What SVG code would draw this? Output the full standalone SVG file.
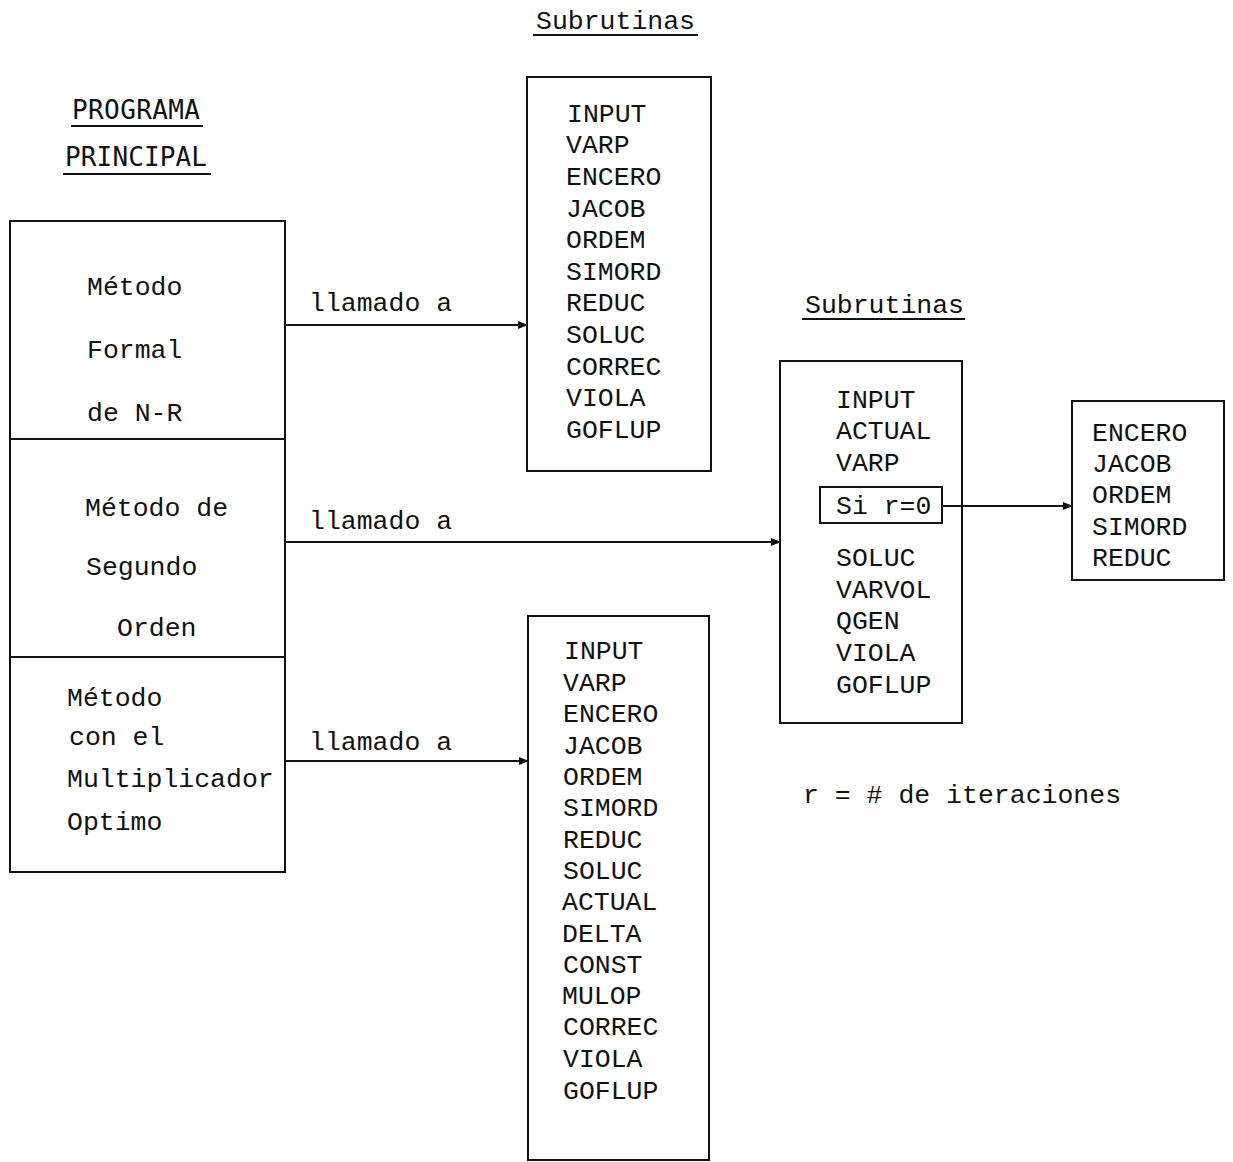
<svg xmlns="http://www.w3.org/2000/svg" width="1233" height="1162" viewBox="0 0 1233 1162">
<style>
text{font-family:"Liberation Mono","DejaVu Sans Mono",monospace;font-size:26.5px;fill:#111}
.h{font-family:"DejaVu Sans Mono","Liberation Mono",monospace;font-size:26px}
.b{fill:none;stroke:#111;stroke-width:2}
.u{stroke:#111;stroke-width:2}
.c{stroke:#111;stroke-width:1.8;fill:none;marker-end:url(#ah)}
</style>
<defs>
<marker id="ah" markerWidth="10" markerHeight="8" refX="9" refY="4" orient="auto" markerUnits="userSpaceOnUse">
<path d="M0,0 L10,4 L0,8 Z" fill="#111"/>
</marker>
</defs>
<rect width="1233" height="1162" fill="#fff"/>

<g id="titles">
<text x="536" y="29">Subrutinas</text>
<line class="u" x1="533" y1="35" x2="698" y2="35"/>
<text class="h" x="72" y="119" textLength="128">PROGRAMA</text>
<line class="u" x1="71" y1="126" x2="203" y2="126"/>
<text class="h" x="65" y="166" textLength="142">PRINCIPAL</text>
<line class="u" x1="63" y1="174" x2="211" y2="174"/>
<text x="805" y="313">Subrutinas</text>
<line class="u" x1="802" y1="319" x2="965" y2="319"/>
<text x="803" y="803">r = # de iteraciones</text>
</g>

<g id="main">
<rect class="b" x="10" y="221" width="275" height="651"/>
<line class="u" x1="10" y1="439" x2="285" y2="439"/>
<line class="u" x1="10" y1="657" x2="285" y2="657"/>
<text x="87" y="295">Método</text>
<text x="87" y="358">Formal</text>
<text x="87" y="421">de N-R</text>
<text x="85" y="516">Método de</text>
<text x="86" y="575">Segundo</text>
<text x="117" y="636">Orden</text>
<text x="67" y="706">Método</text>
<text x="69" y="745">con el</text>
<text x="67" y="787">Multiplicador</text>
<text x="67" y="830">Optimo</text>
</g>

<g id="sub1">
<rect class="b" x="527" y="77" width="184" height="394"/>
<text x="567" y="122">INPUT</text>
<text x="566" y="153">VARP</text>
<text x="566" y="185">ENCERO</text>
<text x="566" y="217">JACOB</text>
<text x="566" y="248">ORDEM</text>
<text x="566" y="280">SIMORD</text>
<text x="566" y="311">REDUC</text>
<text x="566" y="343">SOLUC</text>
<text x="566" y="375">CORREC</text>
<text x="566" y="406">VIOLA</text>
<text x="566" y="438">GOFLUP</text>
</g>

<g id="sub2">
<rect class="b" x="780" y="361" width="182" height="362"/>
<text x="836" y="408">INPUT</text>
<text x="836" y="439">ACTUAL</text>
<text x="836" y="471">VARP</text>
<g id="cond">
<rect class="b" x="820" y="487" width="122" height="36"/>
<text x="836" y="514">Si r=0</text>
</g>
<text x="836" y="566">SOLUC</text>
<text x="836" y="598">VARVOL</text>
<text x="836" y="629">QGEN</text>
<text x="836" y="661">VIOLA</text>
<text x="836" y="693">GOFLUP</text>
</g>

<g id="sub3">
<rect class="b" x="1072" y="401" width="152" height="179"/>
<text x="1092" y="441">ENCERO</text>
<text x="1092" y="472">JACOB</text>
<text x="1092" y="503">ORDEM</text>
<text x="1092" y="535">SIMORD</text>
<text x="1092" y="566">REDUC</text>
</g>

<g id="sub4">
<rect class="b" x="528" y="616" width="181" height="544"/>
<text x="564" y="659">INPUT</text>
<text x="563" y="691">VARP</text>
<text x="563" y="722">ENCERO</text>
<text x="563" y="754">JACOB</text>
<text x="563" y="785">ORDEM</text>
<text x="563" y="816">SIMORD</text>
<text x="563" y="848">REDUC</text>
<text x="563" y="879">SOLUC</text>
<text x="562" y="910">ACTUAL</text>
<text x="562" y="942">DELTA</text>
<text x="563" y="973">CONST</text>
<text x="562" y="1004">MULOP</text>
<text x="563" y="1035">CORREC</text>
<text x="563" y="1067">VIOLA</text>
<text x="563" y="1099">GOFLUP</text>
</g>

<g id="connectors">
<line class="c" x1="285" y1="325" x2="527" y2="325"/>
<text x="309" y="311">llamado a</text>
<line class="c" x1="285" y1="542" x2="780" y2="542"/>
<text x="309" y="529">llamado a</text>
<line class="c" x1="285" y1="761" x2="528" y2="761"/>
<text x="309" y="750">llamado a</text>
<line class="c" x1="942" y1="506" x2="1072" y2="506"/>
</g>
</svg>
